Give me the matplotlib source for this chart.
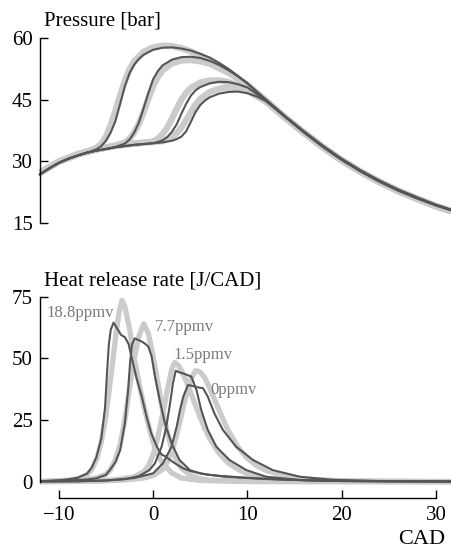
import matplotlib
matplotlib.use("Agg")
from matplotlib import pyplot as plt

plt.rcParams['font.family'] = ['Liberation Serif', 'DejaVu Serif']

# ---- pressure, measured (dark) ----
p_cad_188 = [-12, -11, -10, -9, -8, -7, -6, -5.5, -5, -4.5, -4, -3.5, -3, -2.5, -2, -1.5, -1,
             0, 1, 2, 3, 4, 5, 6, 7, 8, 9, 10, 12, 14, 16, 18, 20, 22, 24, 26, 28, 30, 31.6]
p_188 = [26.8, 28.3, 29.6, 30.6, 31.4, 32.1, 32.9, 33.7, 35.0, 37.0, 39.8, 44.0, 48.3, 51.5, 53.6, 55.0, 56.0,
         57.2, 57.7, 57.8, 57.5, 57.0, 56.2, 55.3, 54.0, 52.5, 50.8, 49.0, 45.0, 41.0, 37.3, 33.8, 30.6, 27.8,
         25.3, 23.1, 21.2, 19.4, 18.2]

p_cad_77 = [-12, -11, -10, -9, -8, -7, -6, -5, -4, -3, -2.5, -2, -1.5, -1, -0.5, 0, 0.5, 1,
            2, 3, 4, 5, 6, 7, 8, 9, 10, 12, 14, 16, 18, 20, 22, 24, 26, 28, 30, 31.6]
p_77 = [26.8, 28.3, 29.6, 30.6, 31.4, 32.1, 32.6, 33.0, 33.5, 34.3, 35.3, 37.0, 39.5, 43.0, 46.7, 50.0, 52.0, 53.4,
        54.8, 55.4, 55.5, 55.2, 54.5, 53.5, 52.2, 50.7, 49.0, 44.9, 40.9, 37.2, 33.7, 30.5, 27.7, 25.2, 23.0,
        21.1, 19.3, 18.1]

p_cad_15 = [-12, -11, -10, -9, -8, -7, -6, -5, -4, -3, -2, -1, 0, 0.5, 1, 1.5, 2, 2.5, 3, 3.5, 4, 4.5, 5,
            6, 7, 8, 9, 10, 12, 14, 16, 18, 20, 22, 24, 26, 28, 30, 31.6]
p_15 = [26.8, 28.3, 29.6, 30.6, 31.4, 32.1, 32.6, 33.0, 33.4, 33.7, 34.0, 34.2, 34.4, 34.7, 35.1, 35.9, 37.2,
        39.0, 41.6, 44.0, 46.0, 47.3, 48.1, 49.0, 49.4, 49.3, 48.8, 48.0, 44.8, 40.9, 37.1, 33.6, 30.4, 27.6,
        25.1, 22.9, 21.0, 19.3, 18.1]

p_cad_0 = [-12, -11, -10, -9, -8, -7, -6, -5, -4, -3, -2, -1, 0, 1, 2, 2.5, 3, 3.5, 4, 4.5, 5, 5.5, 6,
           7, 8, 9, 10, 11, 12, 14, 16, 18, 20, 22, 24, 26, 28, 30, 31.6]
p_0 = [26.8, 28.3, 29.6, 30.6, 31.4, 32.1, 32.6, 33.0, 33.4, 33.7, 34.0, 34.2, 34.4, 34.6, 35.0, 35.4, 36.0,
       37.3, 39.6, 42.0, 43.7, 44.8, 45.6, 46.5, 46.9, 47.0, 46.6, 45.8, 44.6, 40.8, 37.0, 33.5, 30.3, 27.5,
       25.0, 22.8, 20.9, 19.2, 18.0]

# ---- pressure, simulated (light bands) ----
ps_cad_188 = [-12, -10, -8, -7, -6.5, -6, -5.5, -5, -4.5, -4, -3.5, -3, -2.5, -2, -1, 0, 1, 2, 3, 4, 5, 6,
              8, 10, 12, 14, 16, 18, 20, 22, 24, 26, 28, 30, 31.6]
ps_188 = [27.2, 29.9, 31.7, 32.4, 32.8, 33.3, 34.2, 36.0, 38.8, 42.3, 46.1, 49.6, 52.4, 54.4, 56.7, 57.8,
          58.2, 58.1, 57.6, 56.8, 55.8, 54.7, 51.9, 48.6, 44.7, 40.7, 37.0, 33.5, 30.3, 27.5, 25.0, 22.8,
          20.9, 19.1, 17.9]

ps_cad_77 = [-12, -10, -8, -6, -4, -3, -2.5, -2, -1.5, -1, -0.5, 0, 0.5, 1, 2, 3, 4, 5, 6, 8, 10,
             12, 14, 16, 18, 20, 22, 24, 26, 28, 30, 31.6]
ps_77 = [27.2, 29.9, 31.7, 32.9, 33.8, 34.6, 35.5, 37.0, 39.2, 42.0, 45.3, 48.3, 50.6, 52.2, 53.9, 54.6,
         54.7, 54.4, 53.8, 51.6, 48.6, 44.7, 40.7, 37.0, 33.5, 30.3, 27.5, 25.0, 22.8, 20.9, 19.1, 17.9]

ps_cad_15 = [-12, -10, -8, -6, -4, -2, -1, 0, 0.5, 1, 1.5, 2, 2.5, 3, 3.5, 4, 5, 6, 7, 8, 10,
             12, 14, 16, 18, 20, 22, 24, 26, 28, 30, 31.6]
ps_15 = [27.2, 29.9, 31.7, 32.9, 33.8, 34.3, 34.5, 34.8, 35.5, 36.6, 38.2, 40.4, 42.8, 45.0, 46.7, 47.9,
         49.2, 49.7, 49.7, 49.3, 47.7, 44.6, 40.6, 36.9, 33.4, 30.2, 27.4, 24.9, 22.7, 20.8, 19.0, 17.8]

ps_cad_0 = [-12, -10, -8, -6, -4, -2, 0, 1, 2, 2.5, 3, 3.5, 4, 4.5, 5, 6, 7, 8, 9, 10,
            12, 14, 16, 18, 20, 22, 24, 26, 28, 30, 31.6]
ps_0 = [27.2, 29.9, 31.7, 32.9, 33.8, 34.3, 34.7, 34.9, 35.8, 36.8, 38.2, 40.0, 42.0, 43.8, 45.2, 46.9,
        47.7, 48.0, 47.8, 47.2, 44.5, 40.6, 36.9, 33.4, 30.2, 27.4, 24.9, 22.7, 20.8, 19.0, 17.8]

# ---- heat release rate, measured ----
h_cad_188 = [-12, -10, -9, -8, -7, -6.5, -6, -5.5, -5.1, -4.9, -4.7, -4.5, -4.2, -3.8, -3.4, -3.0, -2.6, -2.3,
             -1.8, -1.2, -0.7, -0.2, 0.4, 0.9, 1.3, 1.8, 2.5, 3.2, 4, 5, 6, 7.4, 9, 10.5, 12, 14, 17, 20, 25, 31.6]
h_188 = [0.2, 0.6, 1.0, 1.6, 3.3, 5.8, 10.1, 17.5, 30, 43.5, 55.5, 61.5, 64.5, 62.0, 59.5, 58.6, 55.8, 50.7,
         42.6, 34.5, 26.4, 19.6, 14.2, 11.0, 10.3, 8.8, 7.0, 5.4, 4.3, 3.4, 2.8, 2.1, 1.7, 1.4, 1.1, 0.8, 0.5,
         0.3, 0.2, 0.1]

h_cad_77 = [-12, -9, -7, -6, -5, -4.6, -4, -3.5, -3.0, -2.65, -2.45, -2.25, -1.95, -1.6, -1.2, -0.8, -0.5, -0.15,
            0.2, 0.7, 1.25, 1.95, 2.8, 3.9, 5, 5.7, 7, 8.5, 10, 12, 14, 17, 20, 25, 31.6]
h_77 = [0.2, 0.5, 0.9, 1.4, 2.8, 4.7, 8.0, 12.8, 23.7, 37.2, 48, 55.5, 58.1, 57.5, 56.8, 55.8, 54.7, 50.7,
        42.6, 33.1, 23.7, 15.6, 8.8, 4.7, 3.4, 2.9, 2.4, 2.0, 1.6, 1.2, 0.9, 0.5, 0.3, 0.2, 0.1]

h_cad_15 = [-12, -8, -5, -3, -1.5, -0.4, 0.2, 0.9, 1.4, 1.8, 2.1, 2.4, 2.8, 3.2, 3.6, 4.05, 4.6, 5.1, 5.8, 6.7,
            8.1, 9.9, 12, 15.6, 20, 25, 31.6]
h_15 = [0.1, 0.2, 0.5, 1.0, 2.3, 4.7, 7.5, 14.2, 22.3, 31.8, 39.9, 45.0, 44.3, 43.9, 43.3, 42.6, 37.2, 29.1,
        21.0, 14.2, 8.8, 4.7, 2.0, 0.7, 0.3, 0.15, 0.1]

h_cad_0 = [-12, -8, -5, -2, 0, 1.05, 1.95, 2.5, 2.85, 3.2, 3.7, 4.2, 4.7, 5.3, 5.8, 6.5, 7.4, 8.8, 10.6, 12.7,
           15.6, 19, 24, 31.6]
h_0 = [0.1, 0.2, 0.5, 1.5, 3.4, 7.5, 14.2, 22.3, 29.1, 34.5, 39.2, 38.8, 38.3, 37.9, 34.5, 27.7, 21.0, 14.2,
       8.8, 4.7, 2.0, 0.8, 0.3, 0.1]

# ---- heat release rate, simulated ----
hs_cad_188 = [-12, -9, -8, -7, -6.5, -6, -5.5, -5, -4.5, -4, -3.6, -3.3, -3, -2.5, -2, -1.5, -1, -0.5, 0, 0.5,
              1, 2, 3, 5, 10, 31.6]
hs_188 = [0.1, 0.6, 1.2, 2.8, 5.0, 9.0, 16, 27, 42, 58, 69, 73.5, 71, 62, 50, 40, 31, 23, 16, 11,
          7.5, 3.5, 1.5, 0.5, 0.1, 0.0]

hs_cad_77 = [-12, -8, -6, -5, -4.5, -4, -3.5, -3, -2.5, -2, -1.5, -1, -0.5, 0, 0.5, 1, 1.5, 2, 2.5, 3,
             4, 5, 6, 10, 31.6]
hs_77 = [0.1, 0.5, 1.5, 3, 5, 9, 15, 25, 38, 50, 59, 64, 60, 51, 40, 29, 20, 13, 8.5, 5.5,
         2.5, 1.2, 0.6, 0.1, 0.0]

hs_cad_15 = [-12, -6, -4, -2, -1, -0.5, 0, 0.5, 1, 1.5, 2, 2.3, 2.7, 3, 3.5, 4, 4.5, 5, 5.5, 6,
             7, 8, 9, 10, 12, 14, 18, 31.6]
hs_15 = [0.0, 0.3, 0.8, 2.0, 4.0, 6.5, 11, 18, 27, 37, 46, 48.3, 47, 45, 41, 36, 31, 26, 21.5, 17.5,
         11.5, 7.5, 5.0, 3.2, 1.4, 0.6, 0.2, 0.0]

hs_cad_0 = [-12, -6, -3, -1, 0, 1, 1.5, 2, 2.5, 3, 3.5, 4, 4.5, 5, 5.5, 6, 6.5, 7, 7.5, 8,
            9, 10, 11, 12, 14, 16, 20, 31.6]
hs_0 = [0.0, 0.2, 0.7, 1.5, 2.5, 5, 8, 12.5, 19, 27, 35, 41.5, 45, 44.5, 42, 38, 33.5, 29, 24.5, 20.5,
        14, 9.5, 6.5, 4.5, 2.2, 1.1, 0.4, 0.1]

labels = ["18.8ppmv", "7.7ppmv", "1.5ppmv", "0ppmv"]
label_pos = [(-11.3, 68.4), (0.2, 62.7), (2.2, 51.4), (6.1, 37.2)]

dark = "#555555"
light = "#cbcbcb"

fig = plt.figure(figsize=(4.51, 5.51), dpi=100)
ax1 = fig.add_axes([0.0887, 0.5958, 0.9113, 0.3347])
ax2 = fig.add_axes([0.0887, 0.1190, 0.9113, 0.3515])

for cx, cy in [(ps_cad_188, ps_188), (ps_cad_77, ps_77), (ps_cad_15, ps_15), (ps_cad_0, ps_0)]:
    ax1.plot(cx, cy, color=light, lw=4.6, solid_capstyle="butt", clip_on=False)
for cx, cy in [(p_cad_188, p_188), (p_cad_77, p_77), (p_cad_15, p_15), (p_cad_0, p_0)]:
    ax1.plot(cx, cy, color=dark, lw=1.5, clip_on=False)

for cx, cy in [(hs_cad_188, hs_188), (hs_cad_77, hs_77), (hs_cad_15, hs_15), (hs_cad_0, hs_0)]:
    ax2.plot(cx, cy, color=light, lw=3.8, solid_capstyle="butt")
for cx, cy in [(h_cad_188, h_188), (h_cad_77, h_77), (h_cad_15, h_15), (h_cad_0, h_0)]:
    ax2.plot(cx, cy, color=dark, lw=1.5)

for txt, (x, y) in zip(labels, label_pos):
    ax2.text(x, y, txt, color="#7a7a7a", fontsize=12, ha="left", va="center")

for ax in (ax1, ax2):
    ax.set_xlim(-12, 31.6)
    ax.spines["top"].set_visible(False)
    ax.spines["right"].set_visible(False)
    ax.spines["left"].set_linewidth(1.0)
    ax.tick_params(axis="y", direction="in", length=6, width=1.0, pad=5, labelsize=15)

ax1.set_ylim(15, 60)
ax1.set_yticks([15, 30, 45, 60])
ax1.spines["left"].set_bounds(15, 60)
ax1.spines["bottom"].set_visible(False)
ax1.set_xticks([])

ax2.set_ylim(-1.5, 77)
ax2.set_yticks([0, 25, 50, 75])
ax2.spines["left"].set_bounds(0, 75)
ax2.spines["bottom"].set_position(("outward", 8.9))
ax2.spines["bottom"].set_bounds(-10, 30)
ax2.spines["bottom"].set_linewidth(1.0)
ax2.set_xticks([-10, 0, 10, 20, 30])
ax2.tick_params(axis="x", direction="in", length=6, width=1.0, pad=6, labelsize=15)

fig.text(44 / 451, 1 - 21 / 551, "Pressure [bar]", fontsize=15, ha="left", va="center")
fig.text(44 / 451, 1 - 281 / 551, "Heat release rate [J/CAD]", fontsize=15, ha="left", va="center")
fig.text(445 / 451, 1 - 540 / 551, "CAD", fontsize=16, ha="right", va="center")

fig.savefig("out.png", dpi=100)
